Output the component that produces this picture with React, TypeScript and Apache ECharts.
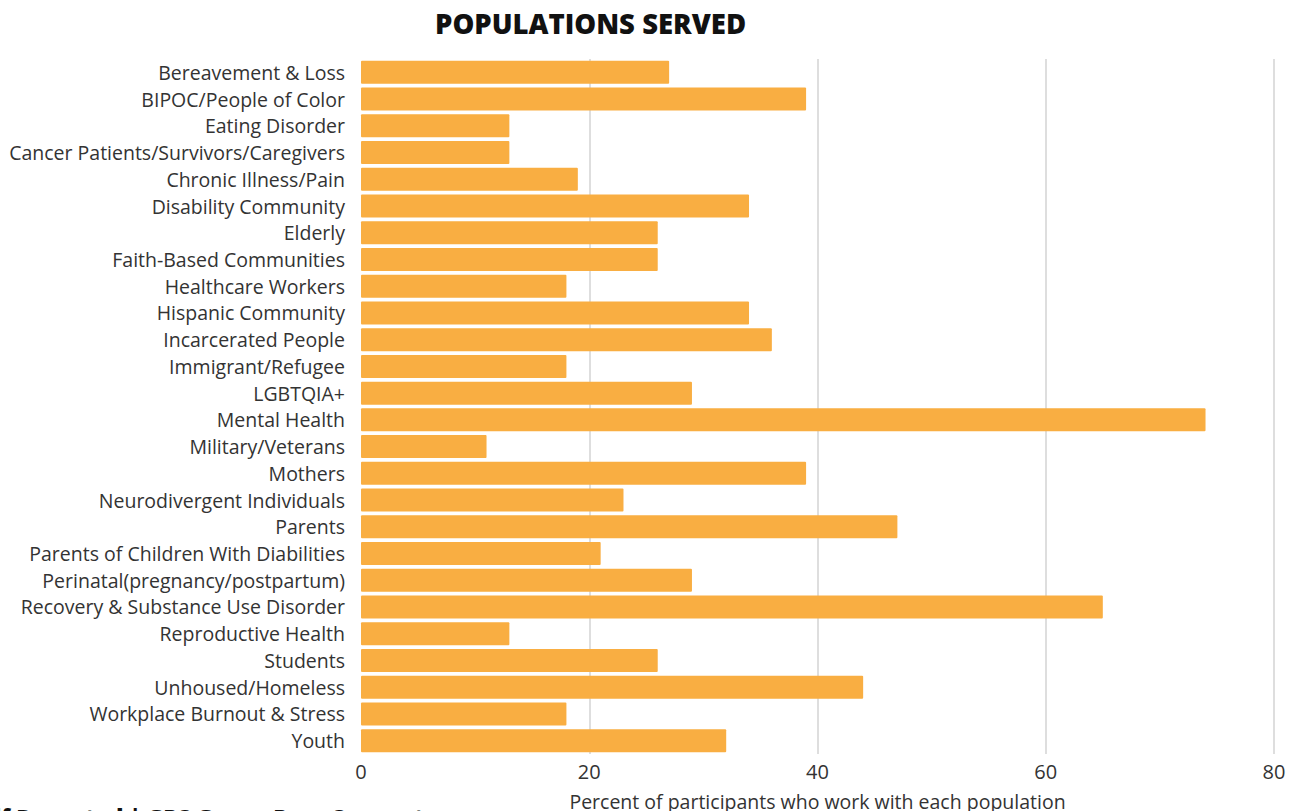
import React, { useEffect, useRef } from "react";
import * as echarts from "echarts";

const categories = [
  "Bereavement & Loss",
  "BIPOC/People of Color",
  "Eating Disorder",
  "Cancer Patients/Survivors/Caregivers",
  "Chronic Illness/Pain",
  "Disability Community",
  "Elderly",
  "Faith-Based Communities",
  "Healthcare Workers",
  "Hispanic Community",
  "Incarcerated People",
  "Immigrant/Refugee",
  "LGBTQIA+",
  "Mental Health",
  "Military/Veterans",
  "Mothers",
  "Neurodivergent Individuals",
  "Parents",
  "Parents of Children With Diabilities",
  "Perinatal(pregnancy/postpartum)",
  "Recovery & Substance Use Disorder",
  "Reproductive Health",
  "Students",
  "Unhoused/Homeless",
  "Workplace Burnout & Stress",
  "Youth",
];

const percentValues = [
  27, 39, 13, 13, 19, 34, 26, 26, 18, 34, 36, 18, 29, 74, 11, 39, 23, 47, 21,
  29, 65, 13, 26, 44, 18, 32,
];

const titleText = "POPULATIONS SERVED";
const axisName = "Percent of participants who work with each population";
const sourceText = "Self Reported | GPS Group Peer Support";

const FONT = "'Open Sans', Lato, sans-serif";

export default function App() {
  const ref = useRef<HTMLDivElement>(null);

  useEffect(() => {
    if (!ref.current) return;
    const chart = echarts.init(ref.current, undefined, { renderer: "svg" });
    chart.setOption({
      animation: false,
      backgroundColor: "#ffffff",
      textStyle: { fontFamily: FONT },
      title: {
        text: titleText,
        left: 430,
        top: 4,
        textStyle: {
          fontFamily: FONT,
          fontWeight: 800,
          fontSize: 27.5,
          color: "#111111",
        },
      },
      graphic: [
        {
          type: "text",
          left: -33,
          top: 806,
          style: {
            text: sourceText,
            fontFamily: FONT,
            fontWeight: 800,
            fontSize: 22.5,
            fill: "#111111",
          },
        },
      ],
      grid: {
        left: 361,
        right: 29,
        top: 59,
        bottom: 57,
        containLabel: false,
        outerBoundsMode: "none",
      },
      xAxis: {
        type: "value",
        min: 0,
        max: 80,
        interval: 20,
        name: axisName,
        nameLocation: "middle",
        nameGap: 37,
        nameTextStyle: { fontFamily: FONT, fontSize: 19.5, color: "#333333" },
        axisLine: { show: false },
        axisTick: { show: false },
        axisLabel: {
          margin: 7,
          fontFamily: FONT,
          fontSize: 20,
          color: "#333333",
        },
        splitLine: {
          show: true,
          showMinLine: false,
          lineStyle: { color: "#d3d3d3", width: 1.5 },
        },
      },
      yAxis: {
        type: "category",
        data: categories,
        inverse: true,
        axisLine: { show: false },
        axisTick: { show: false },
        axisLabel: {
          margin: 16,
          fontFamily: FONT,
          fontSize: 19.5,
          color: "#333333",
        },
        splitLine: { show: false },
      },
      series: [
        {
          type: "bar",
          data: percentValues,
          barCategoryGap: "14%",
          itemStyle: { color: "#f9ae42", borderRadius: 1 },
        },
      ],
    });
    return () => chart.dispose();
  }, []);

  return (
    <div
      ref={ref}
      style={{ position: "absolute", left: 0, top: 0, width: 1303, height: 811 }}
    />
  );
}
